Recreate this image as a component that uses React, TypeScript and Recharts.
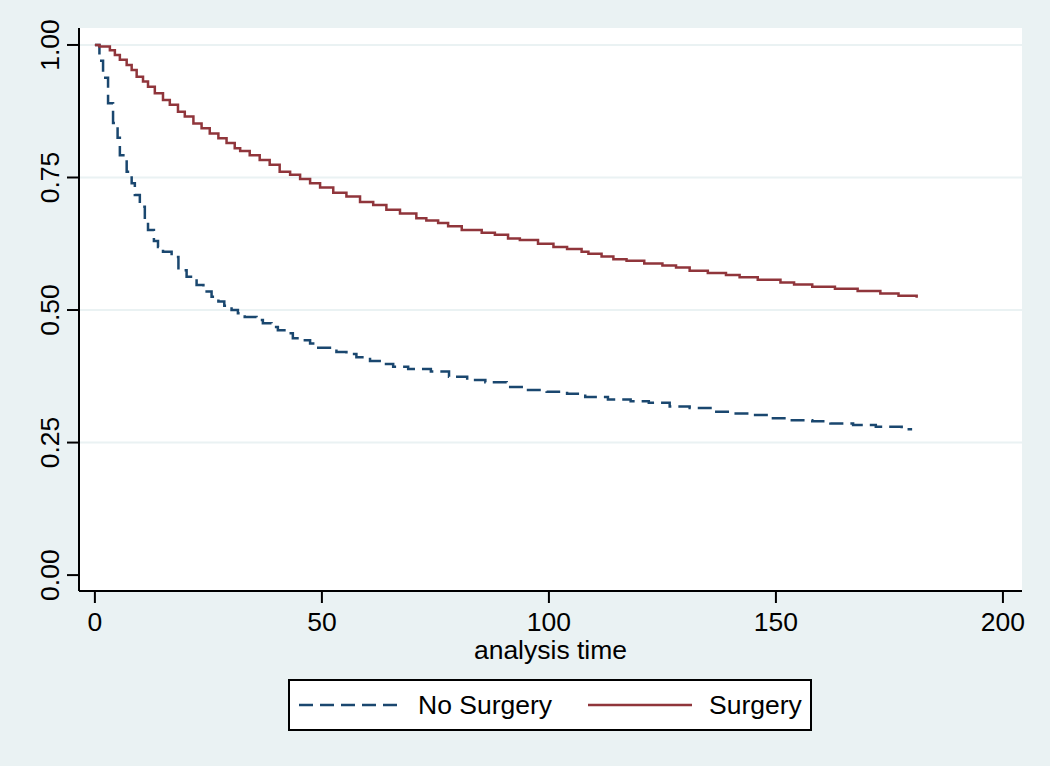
import { LineChart, Line, XAxis, YAxis, CartesianGrid } from "recharts"

// Kaplan-Meier estimates (step function, stepAfter)
const noSurgeryTime = [0, 1, 1.8, 2.9, 4, 5, 5.5, 7, 8.1, 8.8, 9.9, 11, 11.7, 13, 13.9, 15, 16.9, 18.4, 20.2, 22.4, 23.9, 25.7, 27.2, 28.5, 30.1, 31.5, 33, 35.6, 37, 38.9, 40.3, 42.2, 43.6, 45.9, 47.4, 49.2, 53.2, 55.4, 57.6, 60.6, 63.5, 65.7, 69, 74, 78, 82, 86, 90.7, 95, 99.5, 104, 108, 113, 118, 122, 126.6, 131, 136, 140, 144, 148.7, 153.5, 158, 162, 167, 172, 177.7, 180]
const noSurgerySurv = [1.0, 0.97, 0.938, 0.89, 0.853, 0.825, 0.792, 0.761, 0.739, 0.717, 0.695, 0.67, 0.651, 0.63, 0.619, 0.61, 0.6, 0.575, 0.563, 0.547, 0.535, 0.525, 0.516, 0.508, 0.5, 0.494, 0.487, 0.481, 0.475, 0.468, 0.462, 0.456, 0.447, 0.443, 0.437, 0.429, 0.421, 0.417, 0.411, 0.404, 0.398, 0.393, 0.389, 0.384, 0.374, 0.368, 0.364, 0.355, 0.349, 0.346, 0.342, 0.336, 0.331, 0.328, 0.325, 0.318, 0.315, 0.308, 0.305, 0.302, 0.296, 0.292, 0.29, 0.286, 0.283, 0.28, 0.275, 0.275]

const surgeryTime = [0, 1, 3.3, 4.4, 5.5, 7, 8.1, 9.2, 10.6, 11.7, 13.2, 15, 16.5, 18.3, 19.8, 21.7, 23.5, 25.3, 27.2, 29, 30.8, 32, 34.1, 36.3, 38.5, 40.7, 43, 45.2, 47.4, 49.6, 52.5, 55.4, 58.4, 61.3, 64.2, 67.2, 70.8, 73, 75.6, 77.8, 80.8, 85.2, 88.1, 91, 93.6, 97.6, 101, 104, 107.2, 108.7, 111.6, 114.2, 117.1, 121, 125, 128, 131, 135, 139, 142, 146, 151, 154, 158, 163, 168, 173, 177, 181]
const surgerySurv = [1.0, 0.997, 0.99, 0.981, 0.972, 0.962, 0.953, 0.94, 0.931, 0.921, 0.909, 0.896, 0.887, 0.874, 0.865, 0.852, 0.843, 0.833, 0.824, 0.815, 0.805, 0.8, 0.792, 0.783, 0.774, 0.761, 0.755, 0.747, 0.739, 0.731, 0.721, 0.714, 0.704, 0.698, 0.689, 0.682, 0.673, 0.669, 0.664, 0.658, 0.651, 0.646, 0.642, 0.635, 0.632, 0.625, 0.619, 0.615, 0.61, 0.606, 0.601, 0.596, 0.593, 0.588, 0.584, 0.58, 0.574, 0.57, 0.566, 0.562, 0.557, 0.552, 0.548, 0.544, 0.54, 0.536, 0.531, 0.527, 0.523]

const xTicks = [0, 50, 100, 150, 200]
const yTicks = [0, 0.25, 0.5, 0.75, 1]

const BG = "#EAF2F3"
const NAVY = "#1A476F"
const MAROON = "#90353B"
const FONT = "'Liberation Sans', Arial, sans-serif"
const FS = 26.5

const noSurgeryData = noSurgeryTime.map((t, i) => ({ t, s: noSurgerySurv[i] }))
const surgeryData = surgeryTime.map((t, i) => ({ t, s: surgerySurv[i] }))

const YTick = ({ x, y, payload }: any) => (
    <text
        x={x}
        y={y}
        transform={`rotate(-90, ${x}, ${y})`}
        textAnchor="middle"
        fontSize={FS}
        fontFamily={FONT}
        fill="#000"
    >
        {Number(payload.value).toFixed(2)}
    </text>
)

const LegendBox = () => (
    <div
        style={{
            position: "absolute",
            left: 288,
            top: 679,
            width: 520,
            height: 48,
            border: "2px solid #000",
            background: "#fff",
            display: "flex",
            alignItems: "center",
            fontFamily: FONT,
            fontSize: FS,
            color: "#000",
            boxSizing: "content-box",
            whiteSpace: "nowrap",
        }}
    >
        <svg width={104} height={10} style={{ marginLeft: 9, flexShrink: 0 }}>
            <line x1={0} y1={5} x2={104} y2={5} stroke={NAVY} strokeWidth={2.5} strokeDasharray="14 7" />
        </svg>
        <span style={{ marginLeft: 15 }}>No Surgery</span>
        <svg width={104} height={10} style={{ marginLeft: 36, flexShrink: 0 }}>
            <line x1={0} y1={5} x2={104} y2={5} stroke={MAROON} strokeWidth={2.5} />
        </svg>
        <span style={{ marginLeft: 17 }}>Surgery</span>
    </div>
)

export default function App() {
    return (
        <div style={{ position: "absolute", left: 0, top: 0, width: 1050, height: 766, background: BG }}>
            <LineChart
                width={1050}
                height={766}
                margin={{ top: 28, right: 28, bottom: 135, left: 29 }}
            >
                <CartesianGrid
                    horizontal={true}
                    vertical={false}
                    horizontalValues={[0.25, 0.5, 0.75, 1]}
                    stroke={BG}
                    strokeWidth={2}
                    fill="#fff"
                />
                <XAxis
                    type="number"
                    dataKey="t"
                    domain={[-3.5, 204.2]}
                    ticks={xTicks}
                    allowDataOverflow
                    height={40}
                    tickSize={12}
                    tickMargin={9}
                    axisLine={{ stroke: "#000", strokeWidth: 2 }}
                    tickLine={{ stroke: "#000", strokeWidth: 2 }}
                    tick={{ fontSize: FS, fontFamily: FONT, fill: "#000" }}
                    label={{
                        content: ({ viewBox }: any) => (
                            <text
                                x={viewBox.x + viewBox.width / 2}
                                y={viewBox.y + 68}
                                textAnchor="middle"
                                fontSize={FS}
                                fontFamily={FONT}
                                fill="#000"
                            >
                                analysis time
                            </text>
                        ),
                    }}
                />
                <YAxis
                    type="number"
                    dataKey="s"
                    domain={[-0.03, 1.032]}
                    ticks={yTicks}
                    allowDataOverflow
                    width={50}
                    tickSize={12}
                    tickMargin={8}
                    axisLine={{ stroke: "#000", strokeWidth: 2 }}
                    tickLine={{ stroke: "#000", strokeWidth: 2 }}
                    tick={<YTick />}
                />
                <Line
                    data={noSurgeryData}
                    dataKey="s"
                    name="No Surgery"
                    type="stepAfter"
                    stroke={NAVY}
                    strokeWidth={2.5}
                    strokeDasharray="14 7"
                    dot={false}
                    activeDot={false}
                    isAnimationActive={false}
                />
                <Line
                    data={surgeryData}
                    dataKey="s"
                    name="Surgery"
                    type="stepAfter"
                    stroke={MAROON}
                    strokeWidth={2.5}
                    dot={false}
                    activeDot={false}
                    isAnimationActive={false}
                />
            </LineChart>
            <LegendBox />
        </div>
    )
}
